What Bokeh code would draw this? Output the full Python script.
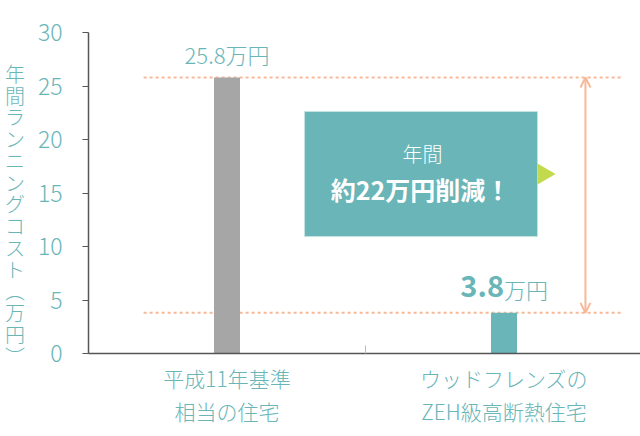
from bokeh.plotting import figure
from bokeh.models import Range1d, FixedTicker, Arrow, OpenHead, ColumnDataSource
from bokeh.core.properties import value
from bokeh.embed import file_html
from bokeh.resources import INLINE

categories = ["平成11年基準\n相当の住宅", "ウッドフレンズの\nZEH級高断熱住宅"]
costs = [25.8, 3.8]
bar_colors = ["#a6a6a6", "#69b5b7"]
y_ticks = [0, 5, 10, 15, 20, 25, 30]
unit = "万円"
saving_title = "年間"
saving_text = "約22万円削減！"
y_label_chars = ["年", "間", "ラ", "ン", "ニ", "ン", "グ", "コ", "ス", "ト", "︵", "万", "円", "︶"]

TEAL = "#69b5b7"
SALMON = "#f8b898"
GREEN = "#c3d94e"
LIGHT = "Noto Sans CJK JP Light, Noto Sans CJK JP"
BOLD = "Noto Sans CJK JP"

W, H = 640, 436
LEFT, TOP, BOTTOM = 88, 32, 83
PX_X = 277.0

xs = [i + 0.5 for i in range(len(categories))]
src = ColumnDataSource(dict(x=xs, top=costs, color=bar_colors))

p = figure(width=W, height=H, output_backend="svg", toolbar_location=None,
           x_range=Range1d(0, (W - LEFT) / PX_X), y_range=Range1d(0, 30),
           min_border_left=LEFT, min_border_right=0, min_border_top=TOP, min_border_bottom=BOTTOM)
p.outline_line_color = None
p.grid.visible = False
p.background_fill_color = "white"
p.border_fill_color = "white"

# dotted reference lines
p.segment(x0=0.199, x1=1.921, y0=costs, y1=costs, line_color=SALMON, line_width=2, line_dash="3 3")

# bars
p.vbar(x="x", top="top", width=0.094, fill_color="color", line_color=None, source=src)

# difference arrow
p.add_layout(Arrow(x_start=1.794, y_start=costs[1], x_end=1.794, y_end=costs[0],
                   start=OpenHead(size=10, line_color=SALMON, line_width=2),
                   end=OpenHead(size=10, line_color=SALMON, line_width=2),
                   line_color=SALMON, line_width=2))

# callout box
p.quad(left=0.78, right=1.621, bottom=10.93, top=22.62, fill_color=TEAL, line_color="#c4e2e2", line_width=1)
p.patch([1.621, 1.621, 1.686], [17.76, 15.79, 16.78], fill_color=GREEN, line_color=None)
p.text(x=[1.206], y=[18.69], text=[saving_title], text_color="white", text_font=value(LIGHT),
       text_font_size="20px", text_align="center", text_baseline="middle")
p.text(x=[1.199], y=[15.33], text=[saving_text], text_color="white", text_font=value(BOLD),
       text_font_style="bold", text_font_size="25px", text_align="center", text_baseline="middle")

# value labels
p.text(x=[xs[0]], y=[costs[0]], text=[f"{costs[0]}{unit}"], y_offset=-23, text_color=TEAL,
       text_font=value(LIGHT), text_font_size="22px", text_align="center", text_baseline="middle")
p.text(x=[xs[1]], y=[costs[1]], text=[f"{costs[1]}"], y_offset=-27, text_color=TEAL,
       text_font=value(BOLD), text_font_style="bold", text_font_size="29px",
       text_align="right", text_baseline="middle")
p.text(x=[xs[1]], y=[costs[1]], text=[unit], y_offset=-24, text_color=TEAL,
       text_font=value(LIGHT), text_font_size="22px", text_align="left", text_baseline="middle")

# axes
p.xaxis.ticker = FixedTicker(ticks=xs, minor_ticks=[1.0])
p.xaxis.major_label_overrides = {x: c for x, c in zip(xs, categories)}
p.xaxis.major_tick_line_color = None
p.xaxis.minor_tick_in = 8
p.xaxis.minor_tick_out = 0
p.xaxis.minor_tick_line_color = "#bbbbbb"
p.xaxis.axis_line_color = "#555555"
p.xaxis.axis_line_width = 1.5
p.xaxis.major_label_text_color = TEAL
p.xaxis.major_label_text_font = LIGHT
p.xaxis.major_label_text_font_size = "21px"
p.xaxis.major_label_text_line_height = 1.12
p.xaxis.major_label_standoff = 3

p.yaxis.ticker = FixedTicker(ticks=y_ticks)
p.yaxis.major_tick_out = 6
p.yaxis.major_tick_in = 0
p.yaxis.minor_tick_line_color = None
p.yaxis.major_tick_line_color = "#555555"
p.yaxis.axis_line_color = "#555555"
p.yaxis.axis_line_width = 1.5
p.yaxis.major_label_text_color = TEAL
p.yaxis.major_label_text_font = LIGHT
p.yaxis.major_label_text_font_size = "23px"
p.yaxis.major_label_standoff = 20

# vertical-writing axis title (leading blank lines shift it down)
p.yaxis.axis_label = "\n".join(["\u3000", "\u3000"] + y_label_chars)
p.yaxis.axis_label_orientation = "horizontal"
p.yaxis.axis_label_text_font = LIGHT
p.yaxis.axis_label_text_font_style = "normal"
p.yaxis.axis_label_text_font_size = "20px"
p.yaxis.axis_label_text_color = TEAL
p.yaxis.axis_label_text_line_height = 0.75
p.yaxis.axis_label_text_align = "center"
p.yaxis.axis_label_standoff = 10

open("out.html", "w").write(file_html(p, INLINE))
